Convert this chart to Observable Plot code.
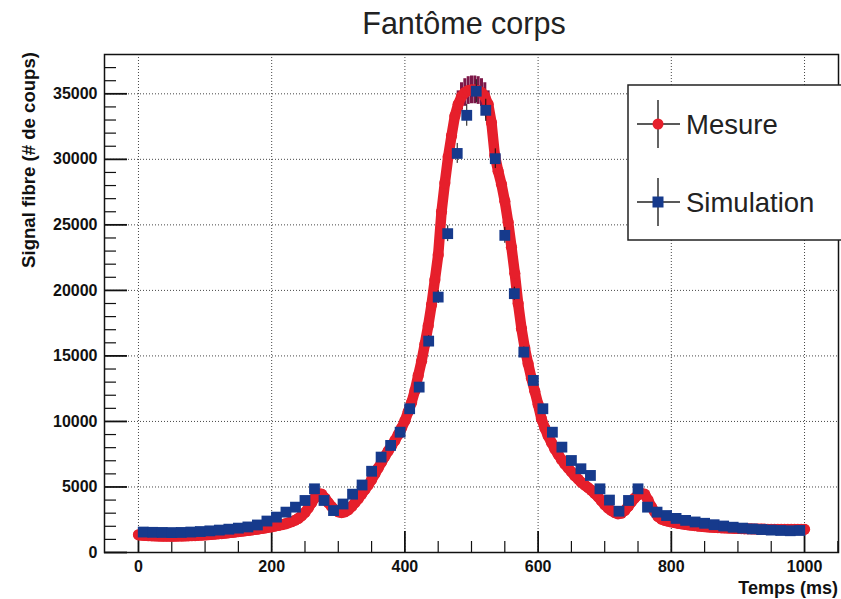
<!DOCTYPE html>
<html><head><meta charset="utf-8">
<script src="https://cdn.jsdelivr.net/npm/d3@7"></script>
<script src="https://cdn.jsdelivr.net/npm/@observablehq/plot@0.6"></script>
<style>
body{margin:0;background:#fff;}
#wrap{position:relative;width:841px;height:599px;font-family:"Liberation Sans",Arial,sans-serif;}
#wrap svg{position:absolute;left:0;top:0;}
</style></head><body><div id="wrap"></div>
<script>
// ---- texts ----
const chartTitle = "Fantôme corps";
const xLabel = "Temps (ms)";
const yLabel = "Signal fibre (# de coups)";
const seriesNames = ["Mesure", "Simulation"];

// ---- ticks ----
const xTicks = [0, 200, 400, 600, 800, 1000];
const xMinor = [50, 100, 150, 250, 300, 350, 450, 500, 550, 650, 700, 750, 850, 900, 950, 1050];
const yTicks = [0, 5000, 10000, 15000, 20000, 25000, 30000, 35000];
const yMinor = [1000, 2000, 3000, 4000, 6000, 7000, 8000, 9000, 11000, 12000, 13000, 14000,
  16000, 17000, 18000, 19000, 21000, 22000, 23000, 24000, 26000, 27000, 28000, 29000,
  31000, 32000, 33000, 34000, 36000, 37000];

// ---- Mesure: one sample every 5 ms from 0 to 1000 ms ----
const mesureStep = 5;
const mesureValues = [
  1350, 1320, 1300, 1280, 1270, 1260, 1250, 1245, 1240, 1240,
  1240, 1245, 1250, 1255, 1260, 1270, 1280, 1295, 1310, 1325,
  1340, 1360, 1380, 1400, 1420, 1445, 1470, 1500, 1530, 1560,
  1590, 1620, 1650, 1685, 1720, 1755, 1790, 1830, 1870, 1915,
  1960, 2010, 2060, 2120, 2180, 2260, 2350, 2460, 2600, 2800,
  3050, 3400, 3800, 4200, 4500, 4450, 4150, 3800, 3500, 3250,
  3100, 3050, 3100, 3250, 3500, 3800, 4100, 4450, 4800, 5150,
  5550, 6000, 6450, 6900, 7350, 7750, 8150, 8550, 9000, 9500,
  10050, 10750, 11450, 12350, 13500, 14600, 15900, 17300, 18900, 20800,
  22700, 26000, 28200, 30200, 31800, 33300, 34200, 34800, 35100, 35250,
  35300, 35300, 35250, 35100, 34800, 34200, 32800, 30300, 29100, 28100,
  26800, 25200, 23300, 21300, 19000, 17100, 15600, 14400, 13300, 12300,
  11300, 10200, 9500, 8900, 8400, 7900, 7500, 7100, 6750, 6450,
  6150, 5850, 5600, 5350, 5150, 4950, 4750, 4500, 4250, 3950,
  3650, 3400, 3200, 3050, 2950, 3000, 3200, 3500, 3850, 4150,
  4400, 4500, 4450, 4000, 3500, 3100, 2750, 2550, 2450, 2390,
  2330, 2280, 2230, 2190, 2150, 2110, 2080, 2050, 2020, 1995,
  1970, 1950, 1930, 1915, 1900, 1885, 1870, 1860, 1850, 1840,
  1830, 1820, 1810, 1805, 1800, 1795, 1790, 1785, 1780, 1775,
  1770, 1765, 1760, 1760, 1760, 1760, 1760, 1760, 1760, 1765,
  1770
];
const mesureRelErr = 0.03;

// ---- Simulation: 70 bins over 0..1000 ms ----
const simBinWidth = 1000 / 70;
const simValues = [
  1560, 1540, 1530, 1520, 1530, 1560, 1600, 1650, 1710, 1780,
  1860, 1950, 2100, 2400, 2700, 3080, 3460, 3970, 4860, 3970,
  3200, 3700, 4450, 5150, 6200, 7280, 8170, 9180, 10970, 12620,
  16130, 19490, 24330, 30450, 33360, 35200, 33740, 30050, 24200, 19750,
  15290, 13130, 10970, 9180, 8040, 7020, 6390, 5880, 4860, 4000,
  3150, 3970, 4860, 3460, 3080, 2820, 2600, 2450, 2330, 2230,
  2120, 2020, 1930, 1860, 1800, 1750, 1710, 1680, 1660, 1680
];
const simRelErr = 0.025;

const red = "#e61f2b", blue = "#163a8c";

const meas = mesureValues.map((v, i) => ({t: i * mesureStep, v}));
const sim = simValues.map((v, i) => ({t: (i + 0.5) * simBinWidth, v}));

const W = 841, H = 599, mL = 104, mR = 3, mT = 54, mB = 47;
const fw = W - mL - mR, fh = H - mT - mB;
const font = "Liberation Sans, Arial, Helvetica, sans-serif";

const plot = Plot.plot({
  width: W, height: H,
  marginLeft: mL, marginRight: mR, marginTop: mT, marginBottom: mB,
  style: {fontFamily: font, background: "white", color: "#111", overflow: "visible"},
  x: {domain: [-51, 1051]},
  y: {domain: [0, 38000]},
  marks: [
    Plot.gridX(xTicks, {stroke: "#333", strokeOpacity: 0.9, strokeDasharray: "1,2"}),
    Plot.gridY(yTicks.filter(d => d > 0), {stroke: "#333", strokeOpacity: 0.9, strokeDasharray: "1,2"}),
    Plot.ruleX(xMinor, {insetTop: fh - 11, stroke: "#111", strokeWidth: 1.2}),
    Plot.ruleX(xTicks, {insetTop: fh - 21, stroke: "#111", strokeWidth: 1.8}),
    Plot.ruleY(yMinor, {insetRight: fw - 12, stroke: "#111", strokeWidth: 1.2}),
    Plot.ruleY(yTicks, {insetRight: fw - 23, stroke: "#111", strokeWidth: 1.8}),
    Plot.axisX(xTicks, {tickSize: 0, tickPadding: 8, fontSize: 16, fontWeight: "bold", label: null, tickFormat: d => String(d)}),
    Plot.axisY(yTicks, {tickSize: 0, tickPadding: 7, fontSize: 16, fontWeight: "bold", label: null, tickFormat: d => String(d)}),
    Plot.ruleX(meas, {x: "t", y1: d => d.v * (1 - mesureRelErr), y2: d => d.v * (1 + mesureRelErr), stroke: "#7d1748", strokeWidth: 3}),
    Plot.line(meas, {x: "t", y: "v", stroke: red, strokeWidth: 10.5}),
    Plot.dot(meas, {x: "t", y: "v", r: 5.6, fill: red}),
    Plot.ruleX(sim, {x: "t", y1: d => d.v * (1 - simRelErr), y2: d => d.v * (1 + simRelErr), stroke: "#111", strokeWidth: 1}),
    Plot.dot(sim, {x: "t", y: "v", r: 6.1, symbol: "square", fill: blue}),
    Plot.frame({stroke: "#111", strokeWidth: 1.5})
  ]
});
const wrap = document.getElementById("wrap");
wrap.appendChild(plot);

// ---- overlay: title, axis titles, legend ----
const ov = d3.select(wrap).append("svg")
  .attr("width", W).attr("height", H)
  .style("pointer-events", "none")
  .style("font-family", font);

ov.append("text").attr("x", 464).attr("y", 34).attr("text-anchor", "middle")
  .attr("font-size", 30.5).attr("fill", "#222").text(chartTitle);

ov.append("text").attr("x", W - mR).attr("y", 594).attr("text-anchor", "end")
  .attr("font-size", 18).attr("font-weight", "bold").attr("fill", "#111").text(xLabel);

ov.append("text").attr("transform", "translate(35,52) rotate(-90)").attr("text-anchor", "end")
  .attr("font-size", 18.6).attr("font-weight", "bold").attr("fill", "#111").text(yLabel);

const lg = ov.append("g");
lg.append("rect").attr("x", 628).attr("y", 85).attr("width", 230).attr("height", 155)
  .attr("fill", "white").attr("stroke", "#222").attr("stroke-width", 1.5);
const entries = [
  {name: seriesNames[0], cy: 124, color: red, shape: "circle"},
  {name: seriesNames[1], cy: 202, color: blue, shape: "square"}
];
entries.forEach(e => {
  lg.append("line").attr("x1", 637).attr("x2", 680).attr("y1", e.cy).attr("y2", e.cy)
    .attr("stroke", "#222").attr("stroke-width", 1.4);
  lg.append("line").attr("x1", 658).attr("x2", 658).attr("y1", e.cy - 24).attr("y2", e.cy + 24)
    .attr("stroke", "#222").attr("stroke-width", 1.4);
  if (e.shape === "circle") {
    lg.append("circle").attr("cx", 658).attr("cy", e.cy).attr("r", 5.5).attr("fill", e.color);
  } else {
    lg.append("rect").attr("x", 652.5).attr("y", e.cy - 5.5).attr("width", 11).attr("height", 11).attr("fill", e.color);
  }
  lg.append("text").attr("x", 686).attr("y", e.cy + 10).attr("font-size", 27.5).attr("fill", "#222").text(e.name);
});
</script></body></html>
